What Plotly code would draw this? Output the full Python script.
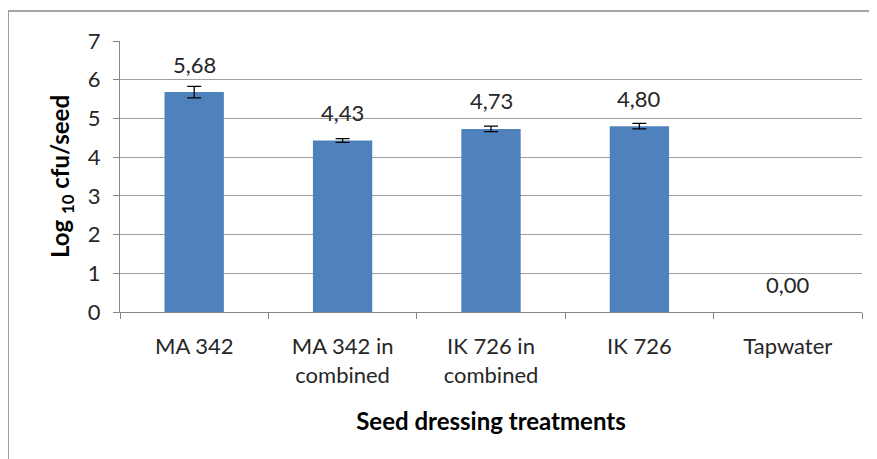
import plotly.graph_objects as go

categories = ["MA 342", "MA 342 in<br>combined", "IK 726 in<br>combined", "IK 726", "Tapwater"]
values = [5.68, 4.43, 4.73, 4.80, 0.00]
errors = [0.15, 0.05, 0.07, 0.07]
y_ticks = [0, 1, 2, 3, 4, 5, 6, 7]

labels = [f"{v:.2f}".replace(".", ",") for v in values]
FONT = "Lato, Open Sans, sans-serif"
TXT = "#262626"

fig = go.Figure()
fig.add_trace(go.Bar(
    x=categories, y=values,
    marker=dict(color="#4F81BD", line=dict(width=0)),
    width=0.4,
    hoverinfo="skip",
))
# error bars only where the reference draws them
fig.add_trace(go.Scatter(
    x=categories[:len(errors)], y=values[:len(errors)], mode="markers",
    marker=dict(size=1, opacity=0),
    error_y=dict(type="data", array=errors, visible=True, color="black",
                 thickness=1.3, width=7),
    hoverinfo="skip",
))

for c, v, t in zip(categories, values, labels):
    fig.add_annotation(x=c, y=v, text=t, showarrow=False, yshift=28,
                       yanchor="middle", font=dict(family=FONT, size=22, color=TXT))

fig.add_shape(type="rect", xref="paper", yref="paper",
              x0=-0.1509, x1=1.2, y0=-0.7, y1=1.1107,
              line=dict(color="#868686", width=1.5), layer="below")

fig.update_layout(
    width=869, height=451, autosize=False,
    margin=dict(l=112, r=15, t=33, b=147),
    plot_bgcolor="white", paper_bgcolor="white",
    showlegend=False,
    font=dict(family=FONT, color=TXT),
    xaxis=dict(
        showline=True, linecolor="#868686", linewidth=1,
        ticks="outside", tickson="boundaries", ticklen=6, tickcolor="#868686",
        tickfont=dict(family=FONT, size=22, color=TXT),
        ticklabelstandoff=15,
        title=dict(text="<b>Seed dressing treatments</b>",
                   font=dict(family=FONT, size=24, color="black"), standoff=26),
        showgrid=False,
    ),
    yaxis=dict(
        range=[0, 7], tickvals=y_ticks,
        showline=True, linecolor="#868686", linewidth=1,
        ticks="outside", ticklen=6, tickcolor="#868686",
        showgrid=True, gridcolor="#A0A0A0", gridwidth=1,
        zeroline=False,
        tickfont=dict(family=FONT, size=22, color=TXT),
        ticklabelstandoff=8,
        title=dict(text="<b>Log <sub>10</sub> cfu/seed</b>",
                   font=dict(family=FONT, size=24, color="black"), standoff=11),
    ),
)

fig.write_html("out.html")
